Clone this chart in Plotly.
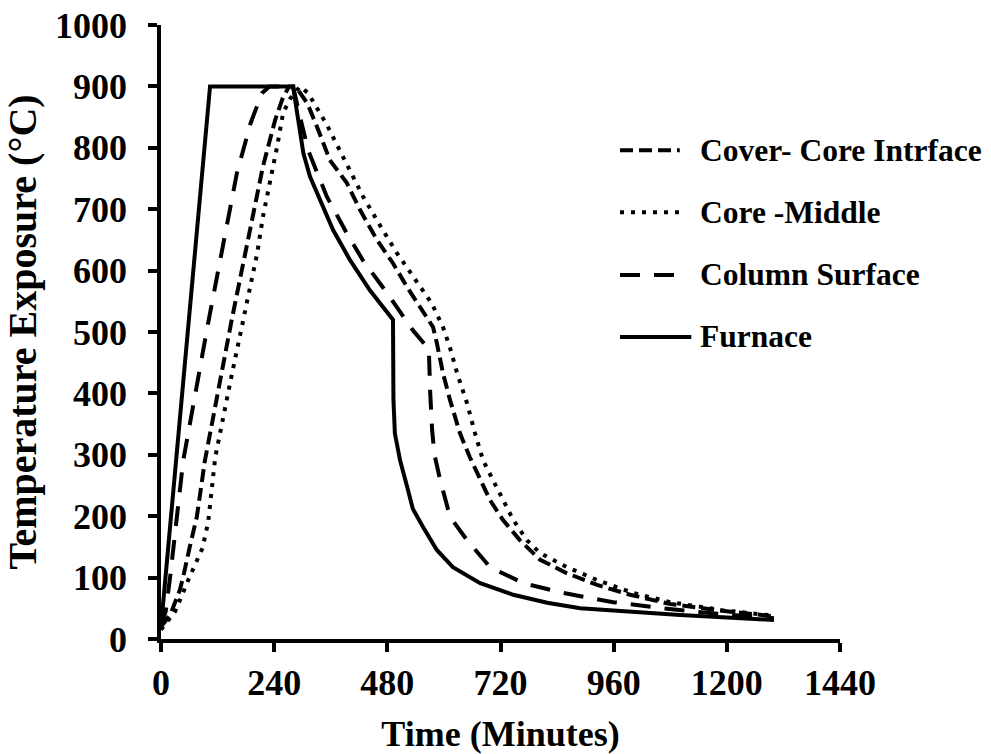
import plotly.graph_objects as go

# ---------------- data ----------------
furnace_t = [0, 104, 280, 288, 295, 302, 316, 331, 365, 401, 443, 492, 493, 496, 507, 522, 534, 556, 585, 619, 677, 747, 819, 889, 995, 1101, 1200, 1300]
furnace_T = [20, 900, 900, 861, 834, 791, 753, 726, 666, 617, 568, 520, 389, 335, 291, 248, 212, 182, 145, 117, 91, 72, 59, 50, 44, 39, 35, 31]

column_t = [0, 10, 20, 30, 47, 100, 161, 190, 214, 230, 280, 295, 312, 352, 394, 428, 479, 534, 549, 568, 571, 575, 580, 592, 613, 649, 698, 768, 853, 959, 1065, 1180, 1300]
column_T = [20, 45, 105, 170, 290, 515, 759, 840, 889, 900, 900, 850, 796, 720, 661, 617, 564, 503, 490, 472, 400, 340, 300, 259, 199, 161, 117, 91, 75, 60, 50, 41, 34]

cover_t = [0, 20, 40, 47, 61, 76, 93, 150, 216, 242, 259, 272, 285, 310, 331, 358, 394, 422, 458, 492, 522, 549, 577, 585, 598, 613, 634, 655, 677, 698, 725, 761, 804, 861, 925, 995, 1080, 1190, 1300]
cover_T = [20, 40, 80, 101, 150, 199, 290, 520, 769, 845, 883, 900, 900, 873, 834, 780, 743, 699, 650, 612, 573, 541, 508, 482, 433, 389, 335, 296, 259, 226, 194, 161, 129, 107, 88, 72, 57, 46, 37]

middle_t = [0, 30, 60, 80, 88, 100, 115, 150, 189, 204, 216, 231, 246, 259, 274, 295, 312, 352, 394, 429, 468, 500, 535, 574, 598, 613, 628, 649, 666, 683, 704, 725, 747, 776, 804, 861, 925, 1001, 1080, 1190, 1300]
middle_T = [15, 45, 100, 135, 148, 190, 296, 430, 573, 628, 687, 743, 801, 857, 880, 900, 889, 837, 775, 720, 669, 629, 590, 547, 508, 474, 433, 384, 335, 291, 259, 226, 194, 161, 140, 117, 96, 75, 60, 47, 38]

series_names = ["Cover- Core Intrface", "Core -Middle", "Column Surface", "Furnace"]
x_ticks = [0, 240, 480, 720, 960, 1200, 1440]
y_ticks = [0, 100, 200, 300, 400, 500, 600, 700, 800, 900, 1000]

FONT = "Liberation Serif"
LW = 4
dashes = {
    "Cover- Core Intrface": "13px,6px",
    "Core -Middle": "4px,7px",
    "Column Surface": "20px,14px",
    "Furnace": "solid",
}
data = {
    "Cover- Core Intrface": (cover_t, cover_T),
    "Core -Middle": (middle_t, middle_T),
    "Column Surface": (column_t, column_T),
    "Furnace": (furnace_t, furnace_T),
}

fig = go.Figure()
for name in series_names:
    t, T = data[name]
    fig.add_trace(go.Scatter(x=t, y=T, mode="lines", name=name, showlegend=False,
                             line=dict(color="black", width=LW, dash=dashes[name])))

# custom legend (long line samples like the original)
leg_y = [0.796, 0.695, 0.593, 0.492]
for name, yy in zip(series_names, leg_y):
    x1 = 0.781 if name == "Furnace" else 0.764
    fig.add_shape(type="line", xref="paper", yref="paper", x0=0.676, x1=x1, y0=yy, y1=yy,
                  line=dict(color="black", width=LW, dash=dashes[name]))
    fig.add_annotation(xref="paper", yref="paper", x=0.791, y=yy, text=name, showarrow=False,
                       xanchor="left", yanchor="middle",
                       font=dict(family=FONT, size=31.5, color="black", weight="bold"))

axis_common = dict(showline=True, linecolor="black", linewidth=3.5, ticks="outside", ticklen=9,
                   tickwidth=3.5, tickcolor="black", showgrid=False, zeroline=False,
                   automargin=False,
                   tickfont=dict(family=FONT, size=36, color="black", weight="bold"))

fig.update_xaxes(range=[0, 1440], tickvals=x_ticks, ticktext=[str(v) for v in x_ticks],
                 title=dict(text="Time (Minutes)", standoff=22,
                            font=dict(family=FONT, size=36, color="black", weight="bold")),
                 **axis_common)
fig.update_yaxes(range=[0, 1000], tickvals=y_ticks, ticktext=[str(v) for v in y_ticks],
                 ticklabelstandoff=14,
                 title=dict(text="Temperature Exposure (°C)", standoff=10,
                            font=dict(family=FONT, size=40, color="black", weight="bold")),
                 **axis_common)

fig.update_layout(width=991, height=754, margin=dict(l=161, r=151, t=25, b=115),
                  plot_bgcolor="white", paper_bgcolor="white",
                  font=dict(family=FONT, color="black"))

fig.write_html("out.html")
